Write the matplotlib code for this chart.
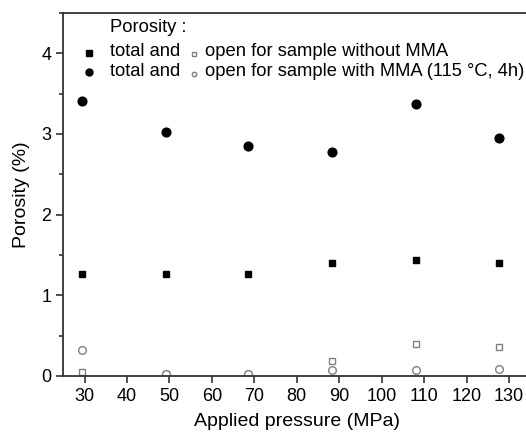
import matplotlib
matplotlib.use("Agg")
import matplotlib.pyplot as plt
from matplotlib.ticker import MultipleLocator

plt.rcParams['font.family'] = ['Liberation Sans', 'DejaVu Sans']

# pressure (MPa) for each sample
pressure = [29.5, 49.2, 68.6, 88.4, 108.0, 127.6]
# porosity (%)
total_no_mma = [1.26, 1.26, 1.26, 1.40, 1.44, 1.40]
open_no_mma = [0.05, 0.03, 0.02, 0.18, 0.40, 0.36]
total_mma = [3.41, 3.03, 2.85, 2.78, 3.37, 2.95]
open_mma = [0.32, 0.02, 0.03, 0.07, 0.07, 0.09]

W, H = 526, 438
fig = plt.figure(figsize=(W / 100, H / 100), dpi=100)
ax = fig.add_axes([63.3 / W, 62 / H, 467 / W, 363 / H])

grey = '#808080'
ax.plot(pressure, total_no_mma, 's', color='black', ms=5, ls='none')
ax.plot(pressure, open_no_mma, 's', mfc='white', mec=grey, mew=1.0, ms=5, ls='none')
ax.plot(pressure, total_mma, 'o', color='black', ms=6.3, ls='none')
ax.plot(pressure, open_mma, 'o', mfc='white', mec=grey, mew=1.0, ms=5.5, ls='none')

ax.set_xlim(25, 135)
ax.set_ylim(0, 4.5)
ax.xaxis.set_major_locator(MultipleLocator(10))
ax.yaxis.set_major_locator(MultipleLocator(1))
ax.yaxis.set_minor_locator(MultipleLocator(0.5))
ax.tick_params(which='both', direction='out', labelsize=13, width=1.2, color='#333333')
ax.tick_params(which='major', length=5)
ax.tick_params(which='minor', length=3)
for s in ax.spines.values():
    s.set_linewidth(1.3)
    s.set_color('#333333')

ax.set_xlabel('Applied pressure (MPa)', fontsize=14, labelpad=6)
ax.set_ylabel('Porosity (%)', fontsize=14, labelpad=8)

# legend written by hand, as in the original
def px(x, y):
    return x / W, 1 - y / H

fs = 13.2
fig.text(*px(110, 27), 'Porosity :', fontsize=fs, va='center')
fig.text(*px(110, 52), 'total and', fontsize=fs, va='center')
fig.text(*px(205, 52), 'open for sample without MMA', fontsize=fs, va='center')
fig.text(*px(110, 72), 'total and', fontsize=fs, va='center')
fig.text(*px(205, 72), 'open for sample with MMA (115 °C, 4h)', fontsize=fs, va='center')
fig.lines.append(plt.Line2D([89 / W], [1 - 53 / H], marker='s', color='black', ms=4.3,
                            transform=fig.transFigure))
fig.lines.append(plt.Line2D([194 / W], [1 - 54 / H], marker='s', mfc='white', mec=grey,
                            mew=1.0, ms=3.2, transform=fig.transFigure))
fig.lines.append(plt.Line2D([89 / W], [1 - 72 / H], marker='o', color='black', ms=5,
                            transform=fig.transFigure))
fig.lines.append(plt.Line2D([194 / W], [1 - 74 / H], marker='o', mfc='white', mec=grey,
                            mew=1.0, ms=3.2, transform=fig.transFigure))

fig.savefig('out.png', dpi=100)
